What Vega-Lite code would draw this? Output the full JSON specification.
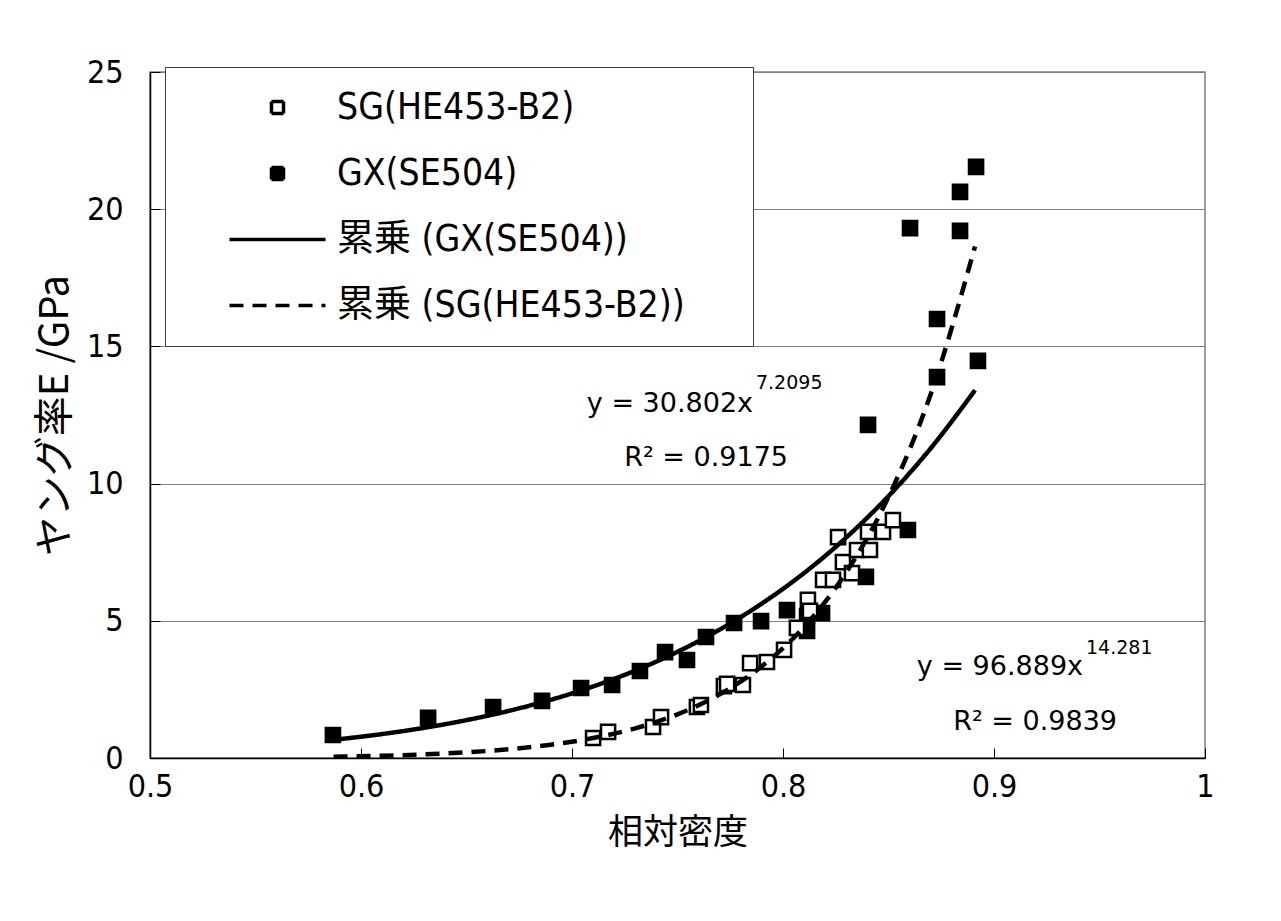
{
  "$schema": "https://vega.github.io/schema/vega-lite/v6.json",
  "width": 1055,
  "height": 686,
  "autosize": {"type": "none"},
  "padding": {"left": 150, "top": 72, "right": 76, "bottom": 163},
  "background": "white",
  "config": {
    "view": {"stroke": "#808080", "strokeWidth": 1.5},
    "font": "Liberation Sans Narrow, DejaVu Sans Condensed, Noto Sans CJK JP",
    "axis": {
      "labelFont": "Liberation Sans Narrow, DejaVu Sans Condensed, Noto Sans CJK JP",
      "labelFontSize": 32,
      "labelColor": "black",
      "labelFlush": false,
      "titleFont": "Noto Sans CJK JP",
      "titleFontWeight": "normal",
      "titleColor": "black",
      "domainColor": "black",
      "domainWidth": 1.5,
      "tickColor": "black",
      "tickWidth": 1,
      "tickSize": -10
    }
  },
  "datasets": {
    "pts": [
      {"d": 0.5867, "E": 0.84, "series": "GX(SE504)"},
      {"d": 0.6318, "E": 1.46, "series": "GX(SE504)"},
      {"d": 0.6626, "E": 1.86, "series": "GX(SE504)"},
      {"d": 0.6858, "E": 2.08, "series": "GX(SE504)"},
      {"d": 0.7043, "E": 2.55, "series": "GX(SE504)"},
      {"d": 0.7190, "E": 2.66, "series": "GX(SE504)"},
      {"d": 0.7322, "E": 3.17, "series": "GX(SE504)"},
      {"d": 0.7441, "E": 3.86, "series": "GX(SE504)"},
      {"d": 0.7545, "E": 3.57, "series": "GX(SE504)"},
      {"d": 0.7635, "E": 4.41, "series": "GX(SE504)"},
      {"d": 0.7768, "E": 4.92, "series": "GX(SE504)"},
      {"d": 0.7896, "E": 4.99, "series": "GX(SE504)"},
      {"d": 0.8019, "E": 5.39, "series": "GX(SE504)"},
      {"d": 0.8114, "E": 5.17, "series": "GX(SE504)"},
      {"d": 0.8114, "E": 4.63, "series": "GX(SE504)"},
      {"d": 0.8185, "E": 5.28, "series": "GX(SE504)"},
      {"d": 0.8393, "E": 6.60, "series": "GX(SE504)"},
      {"d": 0.8403, "E": 12.14, "series": "GX(SE504)"},
      {"d": 0.8592, "E": 8.31, "series": "GX(SE504)"},
      {"d": 0.8602, "E": 19.31, "series": "GX(SE504)"},
      {"d": 0.8730, "E": 16.00, "series": "GX(SE504)"},
      {"d": 0.8730, "E": 13.88, "series": "GX(SE504)"},
      {"d": 0.8839, "E": 20.63, "series": "GX(SE504)"},
      {"d": 0.8839, "E": 19.21, "series": "GX(SE504)"},
      {"d": 0.8915, "E": 21.54, "series": "GX(SE504)"},
      {"d": 0.8924, "E": 14.47, "series": "GX(SE504)"},
      {"d": 0.7100, "E": 0.73, "series": "SG(HE453-B2)"},
      {"d": 0.7171, "E": 0.95, "series": "SG(HE453-B2)"},
      {"d": 0.7384, "E": 1.13, "series": "SG(HE453-B2)"},
      {"d": 0.7422, "E": 1.49, "series": "SG(HE453-B2)"},
      {"d": 0.7592, "E": 1.86, "series": "SG(HE453-B2)"},
      {"d": 0.7611, "E": 1.93, "series": "SG(HE453-B2)"},
      {"d": 0.7720, "E": 2.62, "series": "SG(HE453-B2)"},
      {"d": 0.7735, "E": 2.70, "series": "SG(HE453-B2)"},
      {"d": 0.7810, "E": 2.66, "series": "SG(HE453-B2)"},
      {"d": 0.7844, "E": 3.46, "series": "SG(HE453-B2)"},
      {"d": 0.7924, "E": 3.50, "series": "SG(HE453-B2)"},
      {"d": 0.8005, "E": 3.94, "series": "SG(HE453-B2)"},
      {"d": 0.8066, "E": 4.74, "series": "SG(HE453-B2)"},
      {"d": 0.8118, "E": 5.76, "series": "SG(HE453-B2)"},
      {"d": 0.8128, "E": 5.36, "series": "SG(HE453-B2)"},
      {"d": 0.8190, "E": 6.49, "series": "SG(HE453-B2)"},
      {"d": 0.8237, "E": 6.49, "series": "SG(HE453-B2)"},
      {"d": 0.8284, "E": 7.14, "series": "SG(HE453-B2)"},
      {"d": 0.8327, "E": 6.74, "series": "SG(HE453-B2)"},
      {"d": 0.8261, "E": 8.05, "series": "SG(HE453-B2)"},
      {"d": 0.8351, "E": 7.58, "series": "SG(HE453-B2)"},
      {"d": 0.8412, "E": 7.58, "series": "SG(HE453-B2)"},
      {"d": 0.8403, "E": 8.24, "series": "SG(HE453-B2)"},
      {"d": 0.8474, "E": 8.24, "series": "SG(HE453-B2)"},
      {"d": 0.8521, "E": 8.67, "series": "SG(HE453-B2)"}
    ],
    "fits": [
      {"d": 0.587, "E": 0.662, "fit": "累乗 (GX(SE504))"},
      {"d": 0.61, "E": 0.873, "fit": "累乗 (GX(SE504))"},
      {"d": 0.63, "E": 1.101, "fit": "累乗 (GX(SE504))"},
      {"d": 0.65, "E": 1.380, "fit": "累乗 (GX(SE504))"},
      {"d": 0.67, "E": 1.717, "fit": "累乗 (GX(SE504))"},
      {"d": 0.69, "E": 2.122, "fit": "累乗 (GX(SE504))"},
      {"d": 0.71, "E": 2.608, "fit": "累乗 (GX(SE504))"},
      {"d": 0.73, "E": 3.186, "fit": "累乗 (GX(SE504))"},
      {"d": 0.75, "E": 3.871, "fit": "累乗 (GX(SE504))"},
      {"d": 0.77, "E": 4.680, "fit": "累乗 (GX(SE504))"},
      {"d": 0.79, "E": 5.631, "fit": "累乗 (GX(SE504))"},
      {"d": 0.81, "E": 6.742, "fit": "累乗 (GX(SE504))"},
      {"d": 0.83, "E": 8.038, "fit": "累乗 (GX(SE504))"},
      {"d": 0.85, "E": 9.544, "fit": "累乗 (GX(SE504))"},
      {"d": 0.87, "E": 11.287, "fit": "累乗 (GX(SE504))"},
      {"d": 0.891, "E": 13.404, "fit": "累乗 (GX(SE504))"},
      {"d": 0.587, "E": 0.048, "fit": "累乗 (SG(HE453-B2))"},
      {"d": 0.61, "E": 0.083, "fit": "累乗 (SG(HE453-B2))"},
      {"d": 0.63, "E": 0.132, "fit": "累乗 (SG(HE453-B2))"},
      {"d": 0.65, "E": 0.206, "fit": "累乗 (SG(HE453-B2))"},
      {"d": 0.67, "E": 0.318, "fit": "累乗 (SG(HE453-B2))"},
      {"d": 0.69, "E": 0.484, "fit": "累乗 (SG(HE453-B2))"},
      {"d": 0.71, "E": 0.728, "fit": "累乗 (SG(HE453-B2))"},
      {"d": 0.73, "E": 1.082, "fit": "累乗 (SG(HE453-B2))"},
      {"d": 0.75, "E": 1.592, "fit": "累乗 (SG(HE453-B2))"},
      {"d": 0.77, "E": 2.319, "fit": "累乗 (SG(HE453-B2))"},
      {"d": 0.79, "E": 3.345, "fit": "累乗 (SG(HE453-B2))"},
      {"d": 0.81, "E": 4.780, "fit": "累乗 (SG(HE453-B2))"},
      {"d": 0.83, "E": 6.770, "fit": "累乗 (SG(HE453-B2))"},
      {"d": 0.85, "E": 9.514, "fit": "累乗 (SG(HE453-B2))"},
      {"d": 0.87, "E": 13.259, "fit": "累乗 (SG(HE453-B2))"},
      {"d": 0.891, "E": 18.641, "fit": "累乗 (SG(HE453-B2))"}
    ],
    "notes": [
      {"x": 0.7858, "y": 12.90, "text": "y = 30.802x", "kind": "eq"},
      {"x": 0.8024, "y": 10.93, "text": "R² = 0.9175", "kind": "eq"},
      {"x": 0.9422, "y": 3.32, "text": "y = 96.889x", "kind": "eq"},
      {"x": 0.9583, "y": 1.31, "text": "R² = 0.9839", "kind": "eq"},
      {"x": 0.7872, "y": 13.67, "text": "7.2095", "kind": "sup"},
      {"x": 0.9436, "y": 4.01, "text": "14.281", "kind": "sup"}
    ]
  },
  "layer": [
    {
      "data": {"name": "pts"},
      "mark": {"type": "point", "size": 200, "stroke": "black", "strokeWidth": 2.5, "opacity": 1},
      "encoding": {
        "x": {
          "field": "d", "type": "quantitative",
          "scale": {"domain": [0.5, 1], "nice": false, "zero": false},
          "axis": {
            "orient": "bottom",
            "values": [0.5, 0.6, 0.7, 0.8, 0.9, 1],
            "format": "~g",
            "grid": false,
            "labelPadding": 23,
            "title": "相対密度",
            "titleFontSize": 35,
            "titlePadding": 13
          }
        },
        "y": {
          "field": "E", "type": "quantitative",
          "scale": {"domain": [0, 25], "nice": false, "zero": true},
          "axis": {
            "orient": "left",
            "values": [0, 5, 10, 15, 20, 25],
            "grid": true,
            "gridColor": "#808080",
            "gridWidth": 1,
            "labelPadding": 37,
            "title": "ヤング率E /GPa",
            "titleFontSize": 40,
            "titlePadding": 11
          }
        },
        "shape": {
          "field": "series", "type": "nominal",
          "scale": {
            "domain": ["SG(HE453-B2)", "GX(SE504)", "累乗 (GX(SE504))", "累乗 (SG(HE453-B2))"],
            "range": ["square", "square", "M-8,0H8", "M-8,0H8"]
          },
          "legend": {
            "orient": "none", "legendX": 15, "legendY": -5,
            "title": "\u00a0", "titleOrient": "right", "titlePadding": 46, "titleFontSize": 11,
            "padding": 22, "strokeColor": "#404040", "fillColor": "white",
            "labelFont": "Liberation Sans Narrow, DejaVu Sans Condensed, Noto Sans CJK JP",
            "labelFontSize": 37, "labelColor": "black", "labelLimit": 0,
            "rowPadding": 28, "symbolSize": 144, "symbolOffset": 72, "labelOffset": 41,
            "symbolStrokeColor": "black", "symbolStrokeWidth": 3,
            "encode": {"symbols": {"update": {"stroke": {"value": "black"}, "strokeWidth": {"value": 3.5}}}}
          }
        },
        "fill": {
          "field": "series", "type": "nominal",
          "scale": {
            "domain": ["SG(HE453-B2)", "GX(SE504)", "累乗 (GX(SE504))", "累乗 (SG(HE453-B2))"],
            "range": ["white", "black", "transparent", "transparent"]
          },
          "legend": {
            "orient": "none", "legendX": 15, "legendY": -5,
            "title": "\u00a0", "titleOrient": "right", "titlePadding": 46, "titleFontSize": 11,
            "padding": 22, "strokeColor": "#404040", "fillColor": "white",
            "labelFont": "Liberation Sans Narrow, DejaVu Sans Condensed, Noto Sans CJK JP",
            "labelFontSize": 37, "labelColor": "black", "labelLimit": 0,
            "rowPadding": 28, "symbolSize": 144, "symbolOffset": 72, "labelOffset": 41,
            "symbolStrokeColor": "black", "symbolStrokeWidth": 3,
            "encode": {"symbols": {"update": {"stroke": {"value": "black"}, "strokeWidth": {"value": 3.5}}}}
          }
        }
      }
    },
    {
      "data": {"name": "fits"},
      "mark": {"type": "line", "stroke": "black", "strokeWidth": 4.5, "interpolate": "monotone"},
      "encoding": {
        "x": {"field": "d", "type": "quantitative"},
        "y": {"field": "E", "type": "quantitative"},
        "strokeDash": {
          "field": "fit", "type": "nominal",
          "scale": {
            "domain": ["SG(HE453-B2)", "GX(SE504)", "累乗 (GX(SE504))", "累乗 (SG(HE453-B2))"],
            "range": [[1, 0], [1, 0], [1, 0], [14, 9]]
          },
          "legend": {
            "orient": "none", "legendX": 15, "legendY": -5,
            "title": "\u00a0", "titleOrient": "right", "titlePadding": 46, "titleFontSize": 11,
            "padding": 22, "strokeColor": "#404040", "fillColor": "white",
            "labelFont": "Liberation Sans Narrow, DejaVu Sans Condensed, Noto Sans CJK JP",
            "labelFontSize": 37, "labelColor": "black", "labelLimit": 0,
            "rowPadding": 28, "symbolSize": 144, "symbolOffset": 72, "labelOffset": 41,
            "symbolStrokeColor": "black", "symbolStrokeWidth": 3,
            "encode": {"symbols": {"update": {"stroke": {"value": "black"}, "strokeWidth": {"value": 3.5}}}}
          }
        }
      }
    },
    {
      "data": {"name": "notes"},
      "transform": [{"filter": "datum.kind == 'eq'"}],
      "mark": {"type": "text", "align": "right", "baseline": "middle", "font": "DejaVu Sans", "fontSize": 27, "color": "black"},
      "encoding": {
        "x": {"field": "x", "type": "quantitative"},
        "y": {"field": "y", "type": "quantitative"},
        "text": {"field": "text"}
      }
    },
    {
      "data": {"name": "notes"},
      "transform": [{"filter": "datum.kind == 'sup'"}],
      "mark": {"type": "text", "align": "left", "baseline": "middle", "font": "DejaVu Sans", "fontSize": 19, "color": "black"},
      "encoding": {
        "x": {"field": "x", "type": "quantitative"},
        "y": {"field": "y", "type": "quantitative"},
        "text": {"field": "text"}
      }
    }
  ]
}
